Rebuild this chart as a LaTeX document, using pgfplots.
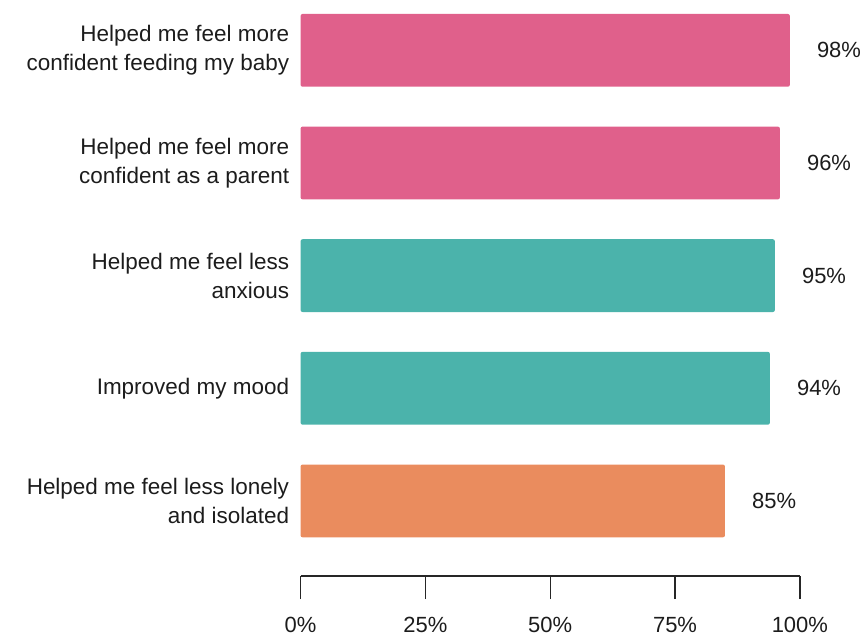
\documentclass[border=0pt]{standalone}
\usepackage{pgfplots}
\pgfplotsset{compat=1.18}
\usepackage{fontspec}
\setmainfont{Liberation Sans}

\definecolor{barpink}{HTML}{E0608B}
\definecolor{barteal}{HTML}{4BB3AB}
\definecolor{barorange}{HTML}{EA8C5E}
\definecolor{txt}{HTML}{1C1C1C}

\begin{document}
\begin{tikzpicture}[font={\fontsize{22.5}{29}\selectfont}, text=txt]
\begin{axis}[
  scale only axis,
  width=500pt, height=577pt,
  xmin=0, xmax=100,
  ymin=-0.668, ymax=4.447,
  xbar,
  bar width=0.646,
  axis x line*=bottom,
  axis y line*=left,
  y axis line style={draw=none},
  ytick style={draw=none},
  x axis line style={line width=1.4pt, color=black!85},
  xtick style={line width=1.4pt, color=black!85},
  xtick={0,25,50,75,100},
  xtick align=outside,
  major tick length=23pt,
  xticklabel={\pgfmathprintnumber{\tick}\%},
  xticklabel style={inner sep=0pt, anchor=north, yshift=-17.5pt,
    font={\fontsize{22}{26}\selectfont}},
  /pgf/number format/assume math mode=true,
  ytick={0,1,2,3,4},
  yticklabels={{Helped me feel less lonely\\and isolated},
               {Improved my mood},
               {Helped me feel less\\anxious},
               {Helped me feel more\\confident as a parent},
               {Helped me feel more\\confident feeding my baby}},
  yticklabel style={align=right, xshift=15pt},
  nodes near coords={\pgfmathprintnumber{\pgfplotspointmeta}\%},
  nodes near coords align=horizontal,
  every node near coord/.append style={anchor=west, inner sep=0pt,
    xshift=27pt, text=txt, font={\fontsize{22}{26}\selectfont}},
  point meta=x,
  clip=false,
]
\addplot[bar shift=0pt, fill=barpink, draw=none, rounded corners=2pt]
  coordinates {(98,4) (96,3)};
\addplot[bar shift=0pt, fill=barteal, draw=none, rounded corners=2pt]
  coordinates {(95,2) (94,1)};
\addplot[bar shift=0pt, fill=barorange, draw=none, rounded corners=2pt]
  coordinates {(85,0)};
\coordinate (bl) at (rel axis cs:0,0);
\coordinate (tr) at (rel axis cs:1,1);
\end{axis}
\path ([xshift=-301pt,yshift=-61pt]bl) rectangle ([xshift=60pt]tr);
\end{tikzpicture}
\end{document}
